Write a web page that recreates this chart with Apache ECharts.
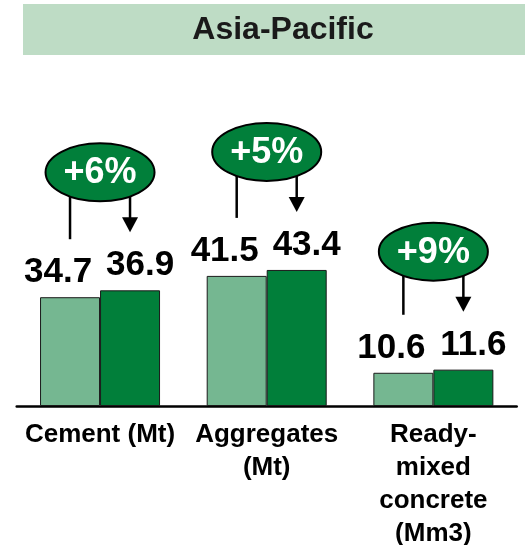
<!DOCTYPE html>
<html>
<head>
<meta charset="utf-8">
<style>
  html, body { margin: 0; padding: 0; background: #fff; }
  #chart { width: 525px; height: 545px; }
</style>
<script src="https://cdn.jsdelivr.net/npm/echarts@6/dist/echarts.min.js"></script>
</head>
<body>
<div id="chart"></div>
<script>
// Volumes by product line, previous period vs. current period
const categories = ['Cement (Mt)', 'Aggregates\n(Mt)', 'Ready-\nmixed\nconcrete\n(Mm3)'];
const previousValues = [34.7, 41.5, 10.6];
const currentValues = [36.9, 43.4, 11.6];
const growthLabels = ['+6%', '+5%', '+9%'];
const regionTitle = 'Asia-Pacific';

const FONT = '"Liberation Sans", Arial, Helvetica, sans-serif';
const LIGHT = '#75b791';
const DARK = '#017f3a';
const BAR_W = 60;

const chart = echarts.init(document.getElementById('chart'), null, { renderer: 'canvas' });

// One callout per category: ellipse with the growth figure, a plain stem
// above the earlier bar and an arrow pointing down to the later bar.
function renderCallout(params, api) {
  const idx = api.value(0);
  const pLight = api.coord([idx, api.value(1)]);
  const pDark = api.coord([idx, api.value(2)]);
  const cx = pLight[0];
  const xl = cx - BAR_W / 2;
  const xr = cx + BAR_W / 2;
  const cy = pDark[1] - 118;
  const rx = 54.5, ry = 29;
  const edge = ry * Math.sqrt(1 - Math.pow((BAR_W / 2) / rx, 2));
  const tipY = pDark[1] - 58;
  const stemEnd = pLight[1] - 58;
  const lineStyle = { stroke: '#000', lineWidth: 2.5 };
  return {
    type: 'group',
    children: [
      { type: 'line', shape: { x1: xl, y1: cy + edge - 1, x2: xl, y2: stemEnd }, style: lineStyle },
      { type: 'line', shape: { x1: xr, y1: cy + edge - 1, x2: xr, y2: tipY - 12 }, style: lineStyle },
      { type: 'polygon', shape: { points: [[xr - 8, tipY - 15], [xr + 8, tipY - 15], [xr, tipY]] }, style: { fill: '#000' } },
      { type: 'ellipse', shape: { cx: cx, cy: cy, rx: rx, ry: ry }, style: { fill: DARK, stroke: '#000', lineWidth: 2 } },
      { type: 'text', x: cx, y: cy + 1, style: {
          text: growthLabels[idx], fill: '#fff', font: 'bold 36px ' + FONT,
          align: 'center', verticalAlign: 'middle'
        } }
    ]
  };
}

const valueLabel = (dx) => ({
  show: true,
  position: 'top',
  distance: 7,
  offset: [dx, 0],
  color: '#000',
  fontFamily: FONT,
  fontWeight: 'bold',
  fontSize: 35
});

chart.setOption({
  animation: false,
  backgroundColor: '#fff',
  graphic: [
    { type: 'rect', left: 23, top: 4, shape: { width: 502, height: 51 }, style: { fill: '#bedcc5' }, z: 0 },
    { type: 'text', x: 283, y: 30, style: {
        text: regionTitle, fill: '#1a1a1a', font: 'bold 32px ' + FONT,
        align: 'center', verticalAlign: 'middle'
      }, z: 1 }
  ],
  grid: { left: 16.7, width: 500, top: 92.5, bottom: 139, outerBoundsMode: 'none', containLabel: false },
  xAxis: {
    type: 'category',
    data: categories,
    axisLine: { show: true, lineStyle: { color: '#000', width: 2.5 } },
    axisTick: { show: false },
    axisLabel: {
      interval: 0,
      margin: 12,
      color: '#000',
      fontFamily: FONT,
      fontWeight: 'bold',
      fontSize: 26,
      lineHeight: 33
    }
  },
  yAxis: {
    type: 'value',
    min: 0,
    max: 100,
    show: false,
    splitLine: { show: false }
  },
  series: [
    {
      type: 'bar',
      data: previousValues,
      barWidth: BAR_W,
      barGap: '0%',
      itemStyle: { color: LIGHT, borderColor: '#1a1a1a', borderWidth: 1 },
      label: valueLabel(-12)
    },
    {
      type: 'bar',
      data: currentValues,
      barWidth: BAR_W,
      barGap: '0%',
      itemStyle: { color: DARK, borderColor: '#1a1a1a', borderWidth: 1 },
      label: valueLabel(10)
    },
    {
      type: 'custom',
      renderItem: renderCallout,
      data: categories.map((c, i) => [i, previousValues[i], currentValues[i]]),
      encode: { x: 0, y: [1, 2] },
      clip: false,
      z: 5
    }
  ]
});
</script>
</body>
</html>
